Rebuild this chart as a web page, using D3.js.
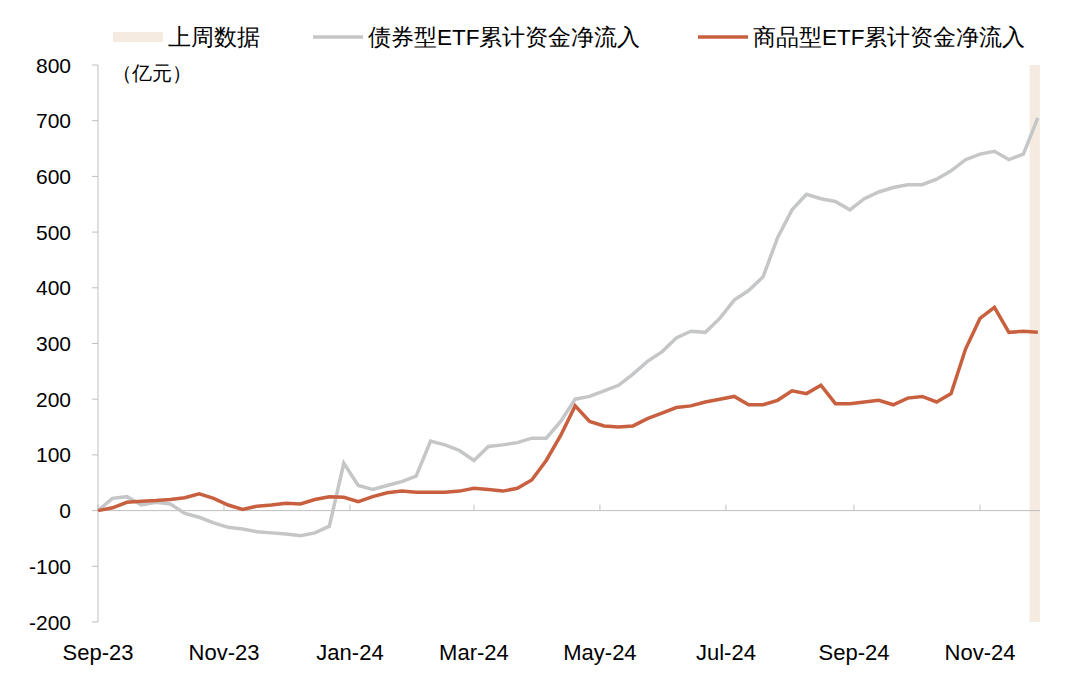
<!DOCTYPE html><html><head><meta charset="utf-8"><script src="https://cdn.jsdelivr.net/npm/d3@7"></script>
<style>body{margin:0;background:#fff}text{font-family:"Liberation Sans",Arial,sans-serif}</style></head><body><svg id="c" width="1080" height="699"></svg><script>
const dates=["2023-09-01","2023-09-08","2023-09-15","2023-09-22","2023-09-29","2023-10-06","2023-10-13","2023-10-20","2023-10-27","2023-11-03","2023-11-10","2023-11-17","2023-11-24","2023-12-01","2023-12-08","2023-12-15","2023-12-22","2023-12-29","2024-01-05","2024-01-12","2024-01-19","2024-01-26","2024-02-02","2024-02-09","2024-02-16","2024-02-23","2024-03-01","2024-03-08","2024-03-15","2024-03-22","2024-03-29","2024-04-05","2024-04-12","2024-04-19","2024-04-26","2024-05-03","2024-05-10","2024-05-17","2024-05-24","2024-05-31","2024-06-07","2024-06-14","2024-06-21","2024-06-28","2024-07-05","2024-07-12","2024-07-19","2024-07-26","2024-08-02","2024-08-09","2024-08-16","2024-08-23","2024-08-30","2024-09-06","2024-09-13","2024-09-20","2024-09-27","2024-10-04","2024-10-11","2024-10-18","2024-10-25","2024-11-01","2024-11-08","2024-11-15","2024-11-22","2024-11-29"];
const bondFlow=[0,22,25,10,15,12,-5,-12,-22,-30,-33,-38,-40,-42,-45,-40,-28,85,45,38,45,52,62,125,118,108,90,115,118,122,130,130,160,200,205,215,225,245,268,285,310,322,320,345,378,395,420,490,540,568,560,555,540,560,572,580,585,585,595,610,630,640,645,630,640,705];
const commodityFlow=[0,5,15,17,18,20,23,30,22,10,2,8,10,13,12,20,25,24,16,25,32,35,33,33,33,35,40,38,35,40,55,90,135,188,160,152,150,152,165,175,185,188,195,200,205,190,190,198,215,210,225,192,192,195,198,190,202,205,195,210,290,345,365,320,322,320];
const yTicks=[-200,-100,0,100,200,300,400,500,600,700,800];
const xTickLabels=["Sep-23","Nov-23","Jan-24","Mar-24","May-24","Jul-24","Sep-24","Nov-24"];
const xTickDates=["2023-09-01","2023-11-01","2024-01-01","2024-03-01","2024-05-01","2024-07-01","2024-09-01","2024-11-01"];
const lastWeek=["2024-11-25","2024-11-29"];
const legendNames=["上周数据","债券型ETF累计资金净流入","商品型ETF累计资金净流入"];

const p=d3.timeParse("%Y-%m-%d");
const svg=d3.select("#c");
const x=d3.scaleTime().domain([p("2023-09-01"),p("2024-11-01")]).range([98,980]);
const y=d3.scaleLinear().domain([-200,800]).range([622,65]);
const ax="#bfbfbf";
svg.append("rect").attr("x",x(p(lastWeek[0]))).attr("width",x(p(lastWeek[1]))-x(p(lastWeek[0]))+2)
 .attr("y",y(800)).attr("height",y(-200)-y(800)).attr("fill","#f5ebe0");
svg.append("line").attr("x1",98).attr("x2",98).attr("y1",y(800)).attr("y2",y(-200)).attr("stroke",ax);
yTicks.forEach(t=>{
 svg.append("line").attr("x1",92).attr("x2",98).attr("y1",y(t)).attr("y2",y(t)).attr("stroke",ax);
 svg.append("text").attr("x",71).attr("y",y(t)+7.5).attr("text-anchor","end").attr("font-size",21).attr("fill","#000").text(t);
});
svg.append("line").attr("x1",98).attr("x2",1040).attr("y1",y(0)).attr("y2",y(0)).attr("stroke",ax);
xTickDates.forEach((d,i)=>{
 const xx=x(p(d));
 svg.append("line").attr("x1",xx).attr("x2",xx).attr("y1",y(0)).attr("y2",y(0)-6).attr("stroke",ax);
 svg.append("text").attr("x",xx).attr("y",660).attr("text-anchor","middle").attr("font-size",22).text(xTickLabels[i]);
});
svg.append("text").attr("x",112).attr("y",80).attr("font-size",20).text("（亿元）");
const line=d3.line().x((d,i)=>x(p(dates[i]))).y(d=>y(d)).curve(d3.curveLinear);
svg.append("path").datum(bondFlow).attr("d",line).attr("fill","none").attr("stroke","#c4c6c8").attr("stroke-width",3.5);
svg.append("path").datum(commodityFlow).attr("d",line).attr("fill","none").attr("stroke","#c8603f").attr("stroke-width",3.5);
const lg=[{x:113,c:"#f5ebe0",w:10},{x:313,c:"#c4c6c8",w:3.5},{x:698,c:"#c8603f",w:3.5}];
lg.forEach((l,i)=>{
 svg.append("line").attr("x1",l.x).attr("x2",l.x+50).attr("y1",37).attr("y2",37).attr("stroke",l.c).attr("stroke-width",l.w);
 svg.append("text").attr("x",l.x+55).attr("y",45).attr("font-size",22.5).attr("font-family","Noto Sans CJK SC").text(legendNames[i]);
});
</script></body></html>
